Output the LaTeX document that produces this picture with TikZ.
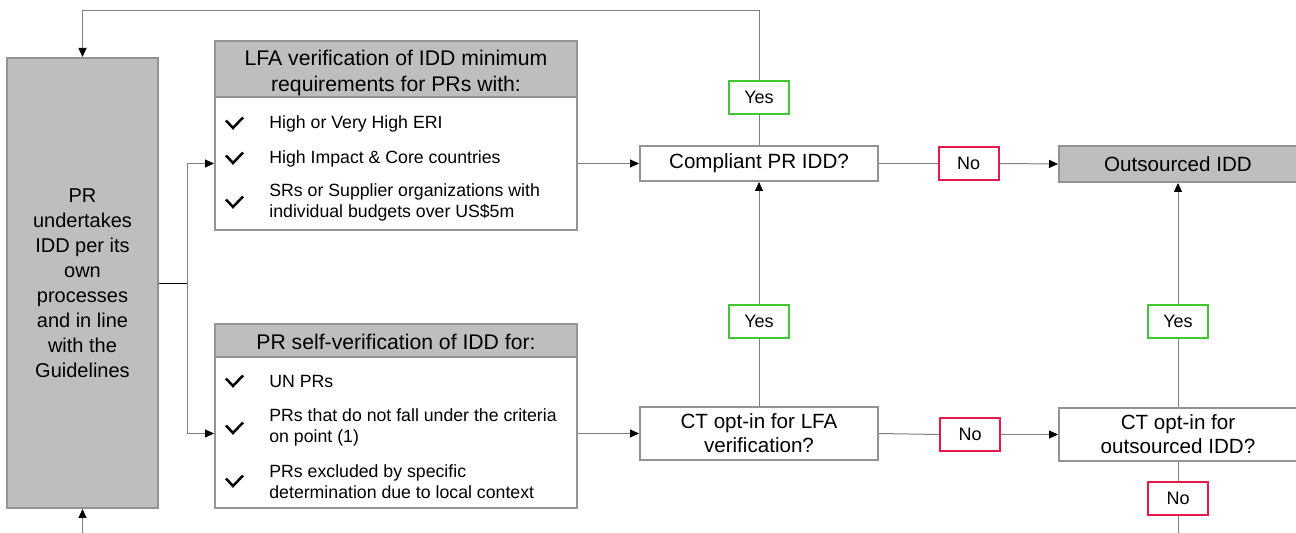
\documentclass[tikz,border=0pt]{standalone}
\usepackage{fontspec}
\setmainfont{Liberation Sans}
\usetikzlibrary{arrows.meta,calc}
\definecolor{boxgray}{HTML}{BCBEC0}
\definecolor{edgegray}{HTML}{939393}
\definecolor{linegray}{HTML}{7F7F7F}
\definecolor{yesgreen}{HTML}{3FC832}
\definecolor{nored}{HTML}{E5194A}
\tikzset{
  box/.style={draw=edgegray, line width=1pt, inner sep=0pt, align=center, font=\fontsize{10.3}{12}\selectfont},
  graybox/.style={box, fill=boxgray},
  whitebox/.style={box, fill=white},
  yeslab/.style={draw=yesgreen, line width=1pt, fill=white, minimum width=30pt, minimum height=16.5pt, inner sep=0pt, font=\fontsize{9}{11}\selectfont},
  nolab/.style={draw=nored, line width=1pt, fill=white, minimum width=30pt, minimum height=16.5pt, inner sep=0pt, font=\fontsize{9}{11}\selectfont},
  itemtext/.style={anchor=west, align=left, inner sep=0pt, font=\fontsize{8.85}{10.5}\selectfont},
  headtext/.style={align=center, inner sep=0pt, font=\fontsize{10.6}{13}\selectfont},
  conn/.style={draw=linegray, line width=0.5pt},
  arr/.style={conn, -{Triangle[length=4.5pt,width=4pt,black]}},
  chk/.pic={\draw[black, line width=1.25pt] (-8,-2.5) -- (-1,5) -- (9,-5.5);}
}
\begin{document}
\begin{tikzpicture}[x=0.5pt,y=-0.5pt]
\useasboundingbox (0,0) rectangle (1296,533);
\clip (0,0) rectangle (1296,533);

% left box
\node[graybox, minimum width=75.5pt, minimum height=225pt, font=\fontsize{10}{12.5}\selectfont] (pr) at (82.5,283)
  {PR\\undertakes\\IDD per its\\own\\processes\\and in line\\with the\\Guidelines};

% LFA box
\node[whitebox, minimum width=181pt, minimum height=94.5pt] (lfa) at (396,135.5) {};
\node[graybox, minimum width=181pt, minimum height=28pt, anchor=north] (lfah) at (lfa.north) {};
\node[headtext] (lfaht) at (396,73) {LFA verification of IDD minimum\\requirements for PRs with:};
\pic at (234,123) {chk};
\pic at (234,158) {chk};
\pic at (234,202) {chk};
\node[itemtext] (lfa1) at (269,124) {High or Very High ERI};
\node[itemtext] (lfa2) at (269,159) {High Impact \& Core countries};
\node[itemtext] (lfa3) at (269,202.5) {SRs or Supplier organizations with\\individual budgets over US\$5m};

% self box
\node[whitebox, minimum width=181pt, minimum height=92pt] (self) at (396,416) {};
\node[graybox, minimum width=181pt, minimum height=16.5pt, anchor=north] (selfh) at (self.north) {};
\node[headtext] (selfht) at (396,341.5) {PR self-verification of IDD for:};
\pic at (234,381) {chk};
\pic at (234,428) {chk};
\pic at (234,481) {chk};
\node[itemtext] (s1) at (269,382) {UN PRs};
\node[itemtext] (s2) at (269,427.5) {PRs that do not fall under the criteria\\on point (1)};
\node[itemtext] (s3) at (269,482) {PRs excluded by specific\\determination due to local context};

% decisions
\node[whitebox, minimum width=119pt, minimum height=17.5pt] (comp) at (759,163.5) {Compliant PR IDD?};
\node[graybox, minimum width=119pt, minimum height=18pt] (out) at (1178,164) {Outsourced IDD};
\node[whitebox, minimum width=119pt, minimum height=26.5pt] (ctl) at (759,433.5) {CT opt-in for LFA\\verification?};
\node[whitebox, minimum width=119pt, minimum height=26.5pt] (cto) at (1178,434.5) {CT opt-in for\\outsourced IDD?};

% labels
\node[yeslab] (yes1) at (759,97.5) {Yes};
\node[nolab] (no1) at (968.5,163.5) {No};
\node[yeslab] (yes2) at (759,321.5) {Yes};
\node[nolab] (no2) at (970,434.5) {No};
\node[yeslab] (yes3) at (1178,321.5) {Yes};
\node[nolab] (no3) at (1178,498.5) {No};

% connectors
\coordinate (tl) at (82,11);
\coordinate (bi) at (82,533);
\coordinate (bo) at (1178,533);
\coordinate (j) at (187,284);
\draw[arr] (yes1.north) -- (yes1.north |- tl) -- (pr.north |- tl) -- (pr.north);
\draw[conn] (comp.north) -- (yes1.south);
\draw[conn] (ctl.north) -- (yes2.south);
\draw[arr] (yes2.north) -- (comp.south);
\draw[conn] (comp.east) -- (no1.west);
\draw[arr] (no1.east) -- (out.west);
\draw[conn] (ctl.east) -- (no2.west);
\draw[arr] (no2.east) -- (cto.west);
\draw[conn] (cto.north) -- (yes3.south);
\draw[arr] (yes3.north) -- (out.south);
\draw[conn] (cto.south) -- (no3.north);
\draw[conn] (no3.south) -- (bo);
\draw[arr] (pr.south |- bi) -- (pr.south);
\draw[conn, draw=black] (pr.east |- j) -- (j);
\draw[arr] (j) |- (lfa.west |- comp.west);
\draw[arr] (j) |- (self.west |- ctl.west);
\draw[arr] (lfa.east |- comp.west) -- (comp.west);
\draw[arr] (self.east |- ctl.west) -- (ctl.west);
\end{tikzpicture}
\end{document}
